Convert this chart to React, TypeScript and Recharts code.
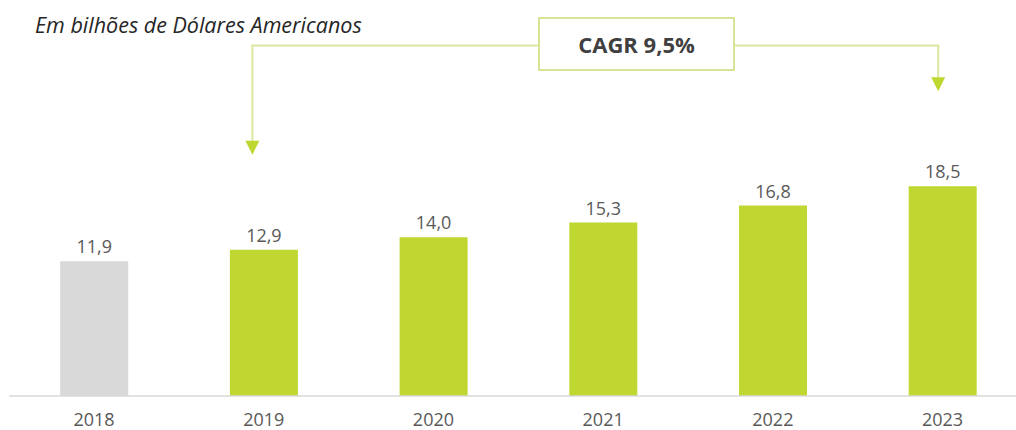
import React from "react";
import { ComposedChart, Bar, XAxis, YAxis, Cell, LabelList } from "recharts";

const years = ["2018", "2019", "2020", "2021", "2022", "2023"];
const values = [11.9, 12.9, 14.0, 15.3, 16.8, 18.5];
const barColors = ["#D9D9D9", "#BFD730", "#BFD730", "#BFD730", "#BFD730", "#BFD730"];
const titleText = "Em bilhões de Dólares Americanos";
const cagrText = "CAGR 9,5%";
const arrowFrom = 1; // index of 2019
const arrowTo = 5; // index of 2023

const data = years.map((y, i) => ({ year: y, value: values[i], color: barColors[i] }));

const LINE_COLOR = "#DAE89F";
const ARROW_COLOR = "#BFD730";
const BRACKET_Y = 45.5;
const BOX_LEFT = 538;
const BOX_RIGHT = 735;

const fmt = (v: number) => v.toFixed(1).replace(".", ",");

const ValueLabel = (props: any) => {
  const { x, y, width, value, index } = props;
  const cx = x + width / 2;
  const els: React.ReactNode[] = [];
  els.push(
    <text
      key="t"
      x={cx}
      y={y - 8}
      textAnchor="middle"
      fontFamily="'Open Sans', sans-serif"
      fontSize={18}
      fill="#595959"
    >
      {fmt(value)}
    </text>
  );
  if (index === arrowFrom || index === arrowTo) {
    const ax = index === arrowFrom ? cx - 11.5 : cx - 4.5;
    const tip = y - 95;
    const top = tip - 14;
    els.push(
      <line key="v" x1={ax} y1={BRACKET_Y} x2={ax} y2={top} stroke={LINE_COLOR} strokeWidth={2} />
    );
    els.push(
      <polygon key="p" points={`${ax - 7},${top} ${ax + 7},${top} ${ax},${tip}`} fill={ARROW_COLOR} />
    );
    if (index === arrowFrom) {
      els.push(
        <line key="h" x1={ax - 1} y1={BRACKET_Y} x2={BOX_LEFT} y2={BRACKET_Y} stroke={LINE_COLOR} strokeWidth={2} />
      );
    } else {
      els.push(
        <line key="h" x1={BOX_RIGHT} y1={BRACKET_Y} x2={ax + 1} y2={BRACKET_Y} stroke={LINE_COLOR} strokeWidth={2} />
      );
    }
  }
  return <g>{els}</g>;
};

const YearTick = (props: any) => {
  const { x, y, payload } = props;
  return (
    <text
      x={x}
      y={y + 30}
      textAnchor="middle"
      fontFamily="'Open Sans', sans-serif"
      fontSize={18}
      fill="#595959"
    >
      {payload.value}
    </text>
  );
};

export default function App() {
  return (
    <div
      style={{
        position: "absolute",
        left: 0,
        top: 0,
        width: 1016,
        height: 430,
        overflow: "hidden",
        background: "#fff",
      }}
    >
      <ComposedChart
        width={1030}
        height={430}
        data={data}
        margin={{ top: 56, right: 2.6, left: 9.2, bottom: 0 }}
        barCategoryGap={0}
      >
        <XAxis
          dataKey="year"
          height={34}
          tickLine={false}
          tickSize={0}
          tickMargin={0}
          axisLine={{ stroke: "#D9D9D9", strokeWidth: 1.5 }}
          tick={<YearTick />}
          interval={0}
        />
        <YAxis hide domain={[0, 30]} />
        <Bar dataKey="value" barSize={68} isAnimationActive={false}>
          {data.map((d, i) => (
            <Cell key={i} fill={d.color} />
          ))}
          <LabelList dataKey="value" content={<ValueLabel />} />
        </Bar>
      </ComposedChart>
      <div
        style={{
          position: "absolute",
          left: 35,
          top: 10,
          fontFamily: "'Open Sans', sans-serif",
          fontStyle: "italic",
          fontSize: 21.5,
          color: "#262626",
          whiteSpace: "nowrap",
          lineHeight: "30px",
        }}
      >
        {titleText}
      </div>
      <div
        style={{
          position: "absolute",
          left: BOX_LEFT,
          top: 17,
          width: BOX_RIGHT - BOX_LEFT,
          height: 54,
          boxSizing: "border-box",
          border: "2px solid #D6E594",
          background: "#fff",
          display: "flex",
          alignItems: "center",
          justifyContent: "center",
          fontFamily: "'Open Sans', sans-serif",
          fontWeight: 700,
          fontSize: 22,
          color: "#404040",
          whiteSpace: "nowrap",
        }}
      >
        {cagrText}
      </div>
    </div>
  );
}
